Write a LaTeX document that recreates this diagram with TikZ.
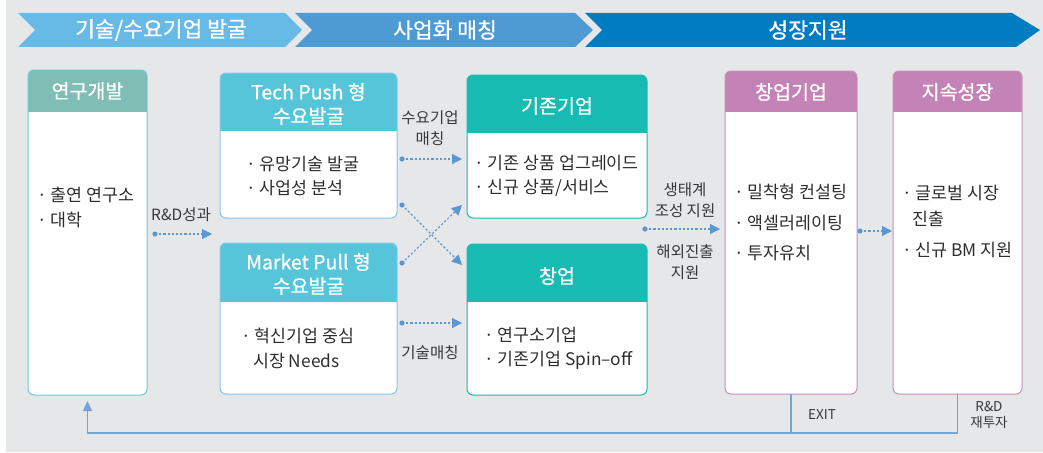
\documentclass[tikz,border=0pt]{standalone}
\usepackage{fontspec}
\setmainfont{Noto Sans CJK KR}
\newfontfamily\hdf{Noto Sans CJK KR}[FakeBold=0.8]
\usetikzlibrary{arrows.meta}
\definecolor{bgc}{HTML}{E6E7E9}
\definecolor{chA}{HTML}{67B9E6}
\definecolor{chB}{HTML}{4E9AD3}
\definecolor{chC}{HTML}{007DC2}
\definecolor{hdrRD}{HTML}{80BDB4}
\definecolor{bdrRD}{HTML}{6DCAD9}
\definecolor{hdrCy}{HTML}{56C5D9}
\definecolor{bdrCy}{HTML}{86C6EA}
\definecolor{hdrTe}{HTML}{18BBB1}
\definecolor{hdrPk}{HTML}{C383B6}
\definecolor{bdrPk}{HTML}{C98EBE}
\definecolor{arr}{HTML}{5B97D1}
\definecolor{fbc}{HTML}{74A3D5}
\definecolor{txt}{HTML}{2E2E2E}
\definecolor{lbl}{HTML}{383838}
\newcommand\mkbox[8]{%
  \begin{scope}
    \clip[rounded corners=6pt] (#2,#3) rectangle (#4,#5);
    \fill[white] (#2,#3) rectangle (#4,#5);
    \fill[#7] (#2,#3) rectangle (#4,#6);
  \end{scope}
  \draw[#8, line width=1pt, rounded corners=6pt] (#2,#3) rectangle (#4,#5);
  \pgfmathsetmacro\bw{#4-#2}\pgfmathsetmacro\bh{#5-#3}
  \node[inner sep=0, outer sep=0, minimum width=\bw pt, minimum height=\bh pt, anchor=north west] (#1) at (#2,#3) {};
}
\newcommand\darr[2]{%
  \fill[arr] (#1) circle (2.6pt);
  \draw[dotarr] (#1) -- (#2);
}
\tikzset{
  banner/.style={text=white, font=\hdf\fontsize{21.5}{24}\selectfont},
  title/.style={text=white, font=\hdf\fontsize{19.5}{24}\selectfont, align=center},
  body/.style={text=txt, font=\fontsize{17.3}{20}\selectfont, anchor=west, inner sep=0},
  lab/.style={text=lbl, font=\fontsize{15.5}{21}\selectfont, align=center, inner sep=0},
  small/.style={text=lbl, font=\fontsize{13.5}{16}\selectfont, align=center, inner sep=0},
  dotarr/.style={arr, line width=1.1pt, dash pattern=on 2.2pt off 2pt,
    -{Triangle[length=10pt,width=10pt]}},
  fb/.style={fbc, line width=1.3pt},
}
\begin{document}
\begin{tikzpicture}[x=1pt,y=-1pt]
\useasboundingbox (0,0) rectangle (1043,452);
\fill[bgc] (6,0) rectangle (1043,452);
% banner
\fill[chA] (18,13) -- (285,13) -- (302,30) -- (285,47) -- (18,47) -- (35,30) -- cycle;
\fill[chB] (295,13) -- (575,13) -- (593,30) -- (575,47) -- (295,47) -- (312,30) -- cycle;
\fill[chC] (585,13) -- (1012,13) -- (1040,30) -- (1016,47) -- (585,47) -- (602,30) -- cycle;
\node[banner] (b1) at (161,30) {기술/수요기업 발굴};
\node[banner] (b2) at (445,30) {사업화 매칭};
\node[banner] (b3) at (808,30) {성장지원};
% boxes
\mkbox{rd}{28}{70}{147}{395}{112}{hdrRD}{bdrRD}
\mkbox{tp}{220}{73}{397}{218}{131}{hdrCy}{bdrCy}
\mkbox{mp}{220}{243}{397}{394}{302}{hdrCy}{bdrCy}
\mkbox{ex}{467}{75}{647}{218}{133}{hdrTe}{hdrTe}
\mkbox{st}{467}{244}{647}{395}{302}{hdrTe}{hdrTe}
\mkbox{sc}{725}{71}{857}{394}{112}{hdrPk}{bdrPk}
\mkbox{gr}{893}{71}{1022}{394}{112}{hdrPk}{bdrPk}
% titles
\node[title] (rdT) at (87.5,91) {연구개발};
\node[title] (tpT) at (308.5,104) {Tech Push 형\\수요발굴};
\node[title] (mpT) at (308.5,274) {Market Pull 형\\수요발굴};
\node[title] (exT) at (557,106) {기존기업};
\node[title] (stT) at (557,276) {창업};
\node[title] (scT) at (791,92) {창업기업};
\node[title] (grT) at (957.5,92) {지속성장};
% body texts
\node[body] (rd1) at (37,195) {· 출연 연구소};
\node[body] (rd2) at (37,220) {· 대학};
\node[body] (tp1) at (246,164) {· 유망기술 발굴};
\node[body] (tp2) at (246,188) {· 사업성 분석};
\node[body] (mp1) at (241,336) {· 혁신기업 중심};
\node[body] (mp2) at (253,361) {시장 Needs};
\node[body] (ex1) at (474,163) {· 기존 상품 업그레이드};
\node[body] (ex2) at (474,188) {· 신규 상품/서비스};
\node[body] (st1) at (484,335) {· 연구소기업};
\node[body] (st2) at (484,360) {· 기존기업 Spin--off};
\node[body] (sc1) at (734,192) {· 밀착형 컨설팅};
\node[body] (sc2) at (734,223) {· 액셀러레이팅};
\node[body] (sc3) at (734,253) {· 투자유치};
\node[body] (gr1) at (902,193) {· 글로벌 시장};
\node[body] (gr2) at (912,219) {진출};
\node[body] (gr3) at (902,250) {· 신규 BM 지원};
% labels
\node[lab] (l1) at (181,215) {R\&D성과};
\node[lab] (l2) at (430,128) {수요기업\\매칭};
\node[lab] (l3) at (430,353) {기술매칭};
\node[lab] (l4) at (685,200) {생태계\\조성 지원};
\node[lab] (l5) at (685,262) {해외진출\\지원};
\node[small] (l6) at (822,415) {EXIT};
\node[small] (l7) at (989,415) {R\&D\\재투자};
% arrow end points
\coordinate (a1s) at (155,234); \coordinate (a1e) at (212,234);
\coordinate (a2s) at (402,159); \coordinate (a2e) at (462,159);
\coordinate (a3s) at (402,205); \coordinate (a3e) at (462,265);
\coordinate (a4s) at (402,263); \coordinate (a4e) at (462,205);
\coordinate (a5s) at (402,323); \coordinate (a5e) at (462,323);
\coordinate (a6s) at (645,229); \coordinate (a6e) at (720,229);
\coordinate (a7s) at (860,231); \coordinate (a7e) at (892,231);
\darr{a1s}{a1e}
\darr{a2s}{a2e}
\darr{a3s}{a3e}
\darr{a4s}{a4e}
\darr{a5s}{a5e}
\darr{a6s}{a6e}
\darr{a7s}{a7e}
% feedback
\coordinate (base) at (0,433);
\draw[fb] (sc.south) -- (sc.south |- base);
\draw[fb, -{Triangle[length=10pt,width=9pt]}, shorten >=6pt] (gr.south) -- (gr.south |- base) -- (rd.south |- base) -- (rd.south);
\end{tikzpicture}
\end{document}
